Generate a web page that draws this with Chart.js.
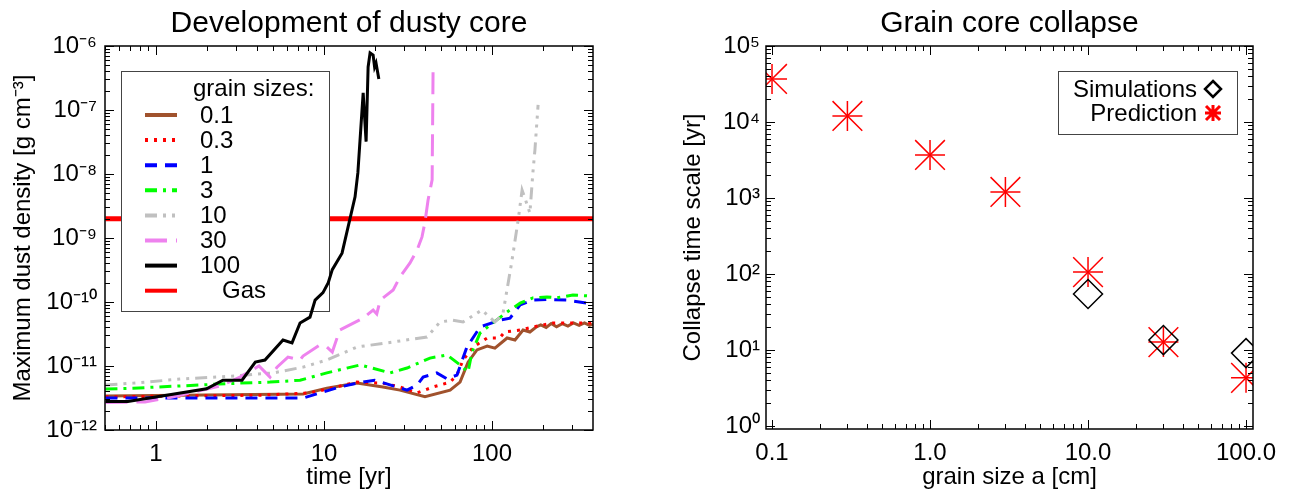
<!DOCTYPE html>
<html>
<head>
<meta charset="utf-8">
<script src="https://cdn.jsdelivr.net/npm/chart.js@4.4.1/dist/chart.umd.min.js"></script>
<style>
  body { margin: 0; background: #fff; }
  .wrap { position: absolute; top: 0; width: 648px; height: 497px; }
  #left { left: 0; }
  #right { left: 648px; }
</style>
</head>
<body>
<div class="wrap" id="left"><canvas id="dust" width="648" height="497"></canvas></div>
<div class="wrap" id="right"><canvas id="collapse" width="648" height="497"></canvas></div>
<script>
// left panel: maximum dust density vs time, one series per grain size
const seriesLabels = ["0.1", "0.3", "1", "3", "10", "30", "100", "Gas"];

const timeBrown = [0.5, 7.5, 10.4, 15.7, 22.4, 28.3, 39.9, 56.3, 64.5, 72, 81.3, 93.6, 104, 123, 137, 153, 168, 184, 195, 210, 225, 242, 262, 283, 305, 330, 355, 380, 400];
const rhoBrown = [3.4e-12, 3.65e-12, 4.5e-12, 5.4e-12, 4.7e-12, 4.2e-12, 3.3e-12, 4.2e-12, 5.6e-12, 1.15e-11, 1.78e-11, 2.05e-11, 1.9e-11, 2.74e-11, 2.55e-11, 3.65e-11, 3.4e-11, 4.1e-11, 4.4e-11, 4.0e-11, 4.6e-11, 4.1e-11, 4.6e-11, 4.2e-11, 4.7e-11, 4.3e-11, 4.7e-11, 4.3e-11, 4.5e-11];

const timeRed = [0.5, 4.2, 8.3, 15.7, 22.4, 28.3, 35.8, 44.6, 56.3, 61.8, 67.2, 77.3, 93.6, 111, 119, 147, 175, 230, 322, 400];
const rhoRed = [3.3e-12, 3.5e-12, 3.8e-12, 5.6e-12, 5.4e-12, 4.7e-12, 3.8e-12, 4.7e-12, 5.6e-12, 7.2e-12, 1.24e-11, 1.98e-11, 2.74e-11, 2.74e-11, 3.4e-11, 3.65e-11, 4.07e-11, 4.7e-11, 4.7e-11, 4.7e-11];

const timeBlue = [0.5, 7.5, 9.5, 12.4, 15.7, 20, 25.8, 31.2, 35.8, 38.9, 46.9, 54, 61.8, 70.9, 84.9, 111, 128, 147, 175, 212, 279, 368, 400];
const rhoBlue = [3.16e-12, 3.16e-12, 3.8e-12, 4.7e-12, 5.4e-12, 6.0e-12, 4.9e-12, 4.2e-12, 5.05e-12, 6.7e-12, 7.8e-12, 6.3e-12, 7.2e-12, 1.98e-11, 4.07e-11, 5.2e-11, 5.6e-11, 9.0e-11, 1.07e-10, 1.1e-10, 1.07e-10, 9.6e-11, 9.3e-11];

const timeGreen = [0.5, 0.73, 1.83, 3.16, 4.77, 7.2, 10.4, 16.4, 24.7, 31.2, 42.7, 54, 64.5, 72, 76, 84.9, 101, 123, 147, 175, 212, 244, 303, 383];
const rhoGreen = [4.37e-12, 4.5e-12, 5.05e-12, 5.4e-12, 5.6e-12, 6.0e-12, 7.8e-12, 1.04e-11, 7.8e-12, 9.3e-12, 1.33e-11, 1.49e-11, 1.04e-11, 8.1e-12, 1.65e-11, 3.28e-11, 4.7e-11, 7.0e-11, 9.6e-11, 1.16e-10, 1.2e-10, 1.16e-10, 1.29e-10, 1.24e-10];

const timeGray = [0.5, 0.73, 1.45, 3.03, 4.0, 5.0, 7.5, 10.4, 15.7, 23.7, 41, 49, 57.8, 67.2, 87.1, 104, 116, 131, 143, 151, 157, 168, 175, 180, 188];
const rhoGray = [5.05e-12, 5.4e-12, 6.3e-12, 7.0e-12, 7.5e-12, 7.8e-12, 9.6e-12, 1.24e-11, 1.98e-11, 2.3e-11, 2.84e-11, 4.87e-11, 5.2e-11, 4.87e-11, 7.5e-11, 4.87e-11, 6.5e-11, 4.2e-10, 1.9e-9, 5.6e-9, 4.2e-9, 2.45e-9, 1.04e-8, 2.37e-8, 1.2e-7];

const timeViolet = [0.5, 0.86, 1.25, 2.4, 3.16, 4.1, 4.77, 5.25, 6.1, 7.2, 7.5, 9.46, 10.4, 11.2, 12.4, 17.1, 19.6, 20.6, 21.6, 25.8, 28.3, 32.5, 35.8, 38.3, 39.9, 41.6, 44, 44.6];
const rhoViolet = [2.7e-12, 2.74e-12, 3.28e-12, 4.87e-12, 6.7e-12, 1.0e-11, 6.7e-12, 9.6e-12, 1.38e-11, 1.24e-11, 1.43e-11, 2.14e-11, 1.98e-11, 1.65e-11, 3.65e-11, 5.6e-11, 7.5e-11, 6.5e-11, 1.07e-10, 1.54e-10, 2.46e-10, 4.07e-10, 6.5e-10, 1.04e-9, 1.78e-9, 3.9e-9, 8.1e-9, 5.05e-7];

const timeBlack = [0.5, 0.68, 2.0, 2.5, 3.25, 3.9, 4.45, 5.7, 6.45, 7.2, 8.25, 8.85, 9.86, 10.6, 11.2, 12.8, 15.3, 15.9, 17.1, 17.8, 18.3, 18.8, 19.6, 20.0, 20.4, 21.2];
const rhoBlack = [2.8e-12, 2.8e-12, 4.4e-12, 6.0e-12, 6.0e-12, 1.15e-11, 1.24e-11, 2.55e-11, 2.3e-11, 4.7e-11, 5.8e-11, 1.07e-10, 1.4e-10, 2.0e-10, 3.2e-10, 5.8e-10, 4.4e-9, 1.04e-8, 1.85e-7, 3.2e-8, 4.7e-7, 7.8e-7, 7.2e-7, 4.7e-7, 5.4e-7, 3.05e-7];

const timeGas = [0.5, 400];
const rhoGas = [2e-9, 2e-9];

const timeTicks = [1, 10, 100];
const timeTickLabels = ["1", "10", "100"];
const rhoTicks = [1e-12, 1e-11, 1e-10, 1e-9, 1e-8, 1e-7, 1e-6];

// right panel: collapse time scale vs grain size
const grainSize = [0.1, 0.3, 1, 3, 10, 30, 100];
const tPrediction = [36800, 12000, 3680, 1200, 106, 12.7, 4.3];
const grainSim = [10, 30, 100];
const tSimulation = [54.6, 13.5, 9.1];
const grainTicks = [0.1, 1, 10, 100];
const grainTickLabels = ["0.1", "1.0", "10.0", "100.0"];
const collapseTicks = [1, 10, 100, 1000, 10000, 100000];
const collapseLegend = ["Simulations", "Prediction"];

const FONT = '"Liberation Sans", Arial, Helvetica, sans-serif';
Chart.defaults.font.family = FONT;
Chart.defaults.color = "#000";

const SUP = { "-": "\u207B", "0": "\u2070", "1": "\u00B9", "2": "\u00B2", "3": "\u00B3", "4": "\u2074", "5": "\u2075", "6": "\u2076", "7": "\u2077", "8": "\u2078", "9": "\u2079" };
function powLabel(v) {
  const e = Math.round(Math.log10(v));
  return "10" + String(e).split("").map((c) => SUP[c]).join("");
}

function logTicks(min, max) {
  const out = [];
  for (let n = Math.floor(Math.log10(min)); n <= Math.ceil(Math.log10(max)); n++) {
    for (let k = 1; k <= 9; k++) {
      const v = k * Math.pow(10, n);
      if (v >= min * 0.999 && v <= max * 1.001) out.push([v, k === 1]);
    }
  }
  return out;
}

// IDL style box: inward major/minor ticks on all four sides plus a title
const boxAxes = {
  id: "boxAxes",
  afterDraw(chart, args, opts) {
    const { ctx, chartArea: a, scales } = chart;
    const x = scales.x, y = scales.y;
    ctx.save();
    ctx.strokeStyle = "#000";
    ctx.lineWidth = 1;
    ctx.beginPath();
    for (const [v, major] of logTicks(x.min, x.max)) {
      const px = Math.round(x.getPixelForValue(v)) + 0.5;
      const len = major ? 9 : 5;
      ctx.moveTo(px, a.bottom); ctx.lineTo(px, a.bottom - len);
      ctx.moveTo(px, a.top); ctx.lineTo(px, a.top + len);
    }
    for (const [v, major] of logTicks(y.min, y.max)) {
      const py = Math.round(y.getPixelForValue(v)) + 0.5;
      const len = major ? 9 : 5;
      ctx.moveTo(a.left, py); ctx.lineTo(a.left + len, py);
      ctx.moveTo(a.right, py); ctx.lineTo(a.right - len, py);
    }
    ctx.stroke();
    ctx.lineWidth = 1.5;
    ctx.strokeRect(a.left, a.top, a.right - a.left, a.bottom - a.top);
    ctx.fillStyle = "#000";
    ctx.font = "30px " + FONT;
    ctx.textAlign = "center";
    ctx.textBaseline = "middle";
    ctx.fillText(opts.title, (a.left + a.right) / 2, 24);
    ctx.restore();
  },
};

// legend box of the left panel, painted right after the Gas line so the other curves sit on top
const grainLegend = {
  id: "grainLegend",
  afterDatasetDraw(chart, args) {
    if (args.index !== 7) return;
    const ctx = chart.ctx;
    ctx.save();
    ctx.fillStyle = "#fff";
    ctx.fillRect(121, 71, 208, 240);
    ctx.strokeStyle = "#444";
    ctx.lineWidth = 1;
    ctx.strokeRect(121.5, 71.5, 208, 240);
    ctx.fillStyle = "#000";
    ctx.font = "24px " + FONT;
    ctx.textBaseline = "middle";
    ctx.fillText("grain sizes:", 193, 89);
    chart.data.datasets.forEach((ds, i) => {
      const yy = 115 + i * 25.1;
      ctx.strokeStyle = ds.borderColor;
      ctx.lineWidth = 4;
      ctx.setLineDash(ds.borderDash);
      ctx.beginPath();
      ctx.moveTo(145, yy);
      ctx.lineTo(177, yy);
      ctx.stroke();
      ctx.setLineDash([]);
      ctx.fillText(ds.label, i === 7 ? 222 : 200, yy + 1);
    });
    ctx.restore();
  },
};

const collapseLegendPlugin = {
  id: "collapseLegend",
  afterDraw(chart) {
    const ctx = chart.ctx;
    ctx.save();
    ctx.fillStyle = "#fff";
    ctx.fillRect(410, 71, 179, 63);
    ctx.strokeStyle = "#444";
    ctx.lineWidth = 1;
    ctx.strokeRect(410.5, 71.5, 179, 63);
    ctx.fillStyle = "#000";
    ctx.font = "24px " + FONT;
    ctx.textAlign = "right";
    ctx.textBaseline = "middle";
    ctx.fillText(collapseLegend[0], 549, 90);
    ctx.fillText(collapseLegend[1], 549, 114);
    // diamond
    ctx.lineWidth = 2.5;
    ctx.strokeStyle = "#000";
    ctx.beginPath();
    ctx.moveTo(565, 81); ctx.lineTo(573, 89); ctx.lineTo(565, 97); ctx.lineTo(557, 89);
    ctx.closePath();
    ctx.stroke();
    // asterisk
    ctx.strokeStyle = "#f00";
    ctx.lineWidth = 3;
    ctx.beginPath();
    ctx.moveTo(557, 113); ctx.lineTo(573, 113);
    ctx.moveTo(565, 105); ctx.lineTo(565, 121);
    ctx.moveTo(558, 106); ctx.lineTo(572, 120);
    ctx.moveTo(572, 106); ctx.lineTo(558, 120);
    ctx.stroke();
    ctx.restore();
  },
};

const colors = ["#a0522d", "#ff0000", "#0000ff", "#00ff00", "#c0c0c0", "#ee82ee", "#000000", "#ff0000"];
const dashes = [[], [3, 6], [12, 8], [12, 6, 3, 6], [12, 6, 3, 6, 3, 6, 3, 6], [22, 9], [], []];
const times = [timeBrown, timeRed, timeBlue, timeGreen, timeGray, timeViolet, timeBlack, timeGas];
const rhos = [rhoBrown, rhoRed, rhoBlue, rhoGreen, rhoGray, rhoViolet, rhoBlack, rhoGas];

const dustSets = seriesLabels.map((label, i) => ({
  label: label,
  data: times[i].map((t, j) => ({ x: t, y: rhos[i][j] })),
  borderColor: colors[i],
  backgroundColor: colors[i],
  borderDash: dashes[i],
  borderWidth: i === 7 ? 5 : 3,
  pointRadius: 0,
  tension: 0,
  order: i === 7 ? 10 : 7 - i,
}));

function fixTicks(values) {
  return (scale) => {
    scale.ticks = values.map((v) => ({ value: v }));
  };
}

new Chart(document.getElementById("dust"), {
  type: "line",
  data: { datasets: dustSets },
  plugins: [grainLegend, boxAxes],
  options: {
    responsive: false,
    animation: false,
    layout: { padding: { top: 46, right: 55, left: 0, bottom: 0 } },
    plugins: {
      legend: { display: false },
      tooltip: { enabled: false },
      boxAxes: { title: "Development of dusty core" },
    },
    scales: {
      x: {
        type: "logarithmic",
        min: 0.497,
        max: 399,
        afterBuildTicks: fixTicks(timeTicks),
        afterFit: (s) => { s.height = 67; },
        grid: { display: false, drawTicks: false },
        border: { display: false },
        ticks: {
          autoSkip: false,
          maxRotation: 0,
          padding: 10,
          font: { size: 24 },
          callback: (v, i) => timeTickLabels[i],
        },
        title: { display: true, text: "time [yr]", font: { size: 24 }, padding: { top: 0, bottom: 5 } },
      },
      y: {
        type: "logarithmic",
        min: 1e-12,
        max: 1e-6,
        afterBuildTicks: fixTicks(rhoTicks),
        afterFit: (s) => { s.width = 105; },
        grid: { display: false, drawTicks: false },
        border: { display: false },
        ticks: {
          autoSkip: false,
          padding: 8,
          font: { size: 24 },
          callback: (v) => powLabel(v),
        },
        title: { display: true, text: "Maximum dust density [g cm\u207B\u00B3]", font: { size: 24 }, padding: { top: 9, bottom: 0 } },
      },
    },
  },
});

new Chart(document.getElementById("collapse"), {
  type: "scatter",
  data: {
    datasets: [
      {
        label: collapseLegend[0],
        data: grainSim.map((g, j) => ({ x: g, y: tSimulation[j] })),
        pointStyle: "rectRot",
        pointRadius: 14.5,
        pointBorderWidth: 1.5,
        pointBorderColor: "#000",
        pointBackgroundColor: "rgba(0,0,0,0)",
        clip: 0,
      },
      {
        label: collapseLegend[1],
        data: grainSize.map((g, j) => ({ x: g, y: tPrediction[j] })),
        pointStyle: "cross",
        pointRadius: 15,
        pointBorderWidth: 1.5,
        pointBorderColor: "#f00",
        clip: 0,
      },
      {
        label: collapseLegend[1],
        data: grainSize.map((g, j) => ({ x: g, y: tPrediction[j] })),
        pointStyle: "crossRot",
        pointRadius: 21,
        pointBorderWidth: 1.5,
        pointBorderColor: "#f00",
        clip: 0,
      },
    ],
  },
  plugins: [boxAxes, collapseLegendPlugin],
  options: {
    responsive: false,
    animation: false,
    layout: { padding: { top: 46, right: 43, left: 22, bottom: 0 } },
    plugins: {
      legend: { display: false },
      tooltip: { enabled: false },
      boxAxes: { title: "Grain core collapse" },
    },
    scales: {
      x: {
        type: "logarithmic",
        min: 0.0916,
        max: 110.7,
        afterBuildTicks: fixTicks(grainTicks),
        afterFit: (s) => { s.height = 68; },
        grid: { display: false, drawTicks: false },
        border: { display: false },
        ticks: {
          autoSkip: false,
          maxRotation: 0,
          padding: 10,
          font: { size: 24 },
          callback: (v, i) => grainTickLabels[i],
        },
        title: { display: true, text: "grain size a [cm]", font: { size: 24 }, padding: { top: 0, bottom: 5 } },
      },
      y: {
        type: "logarithmic",
        min: 0.913,
        max: 1e5,
        afterBuildTicks: fixTicks(collapseTicks),
        afterFit: (s) => { s.width = 96; },
        grid: { display: false, drawTicks: false },
        border: { display: false },
        ticks: {
          autoSkip: false,
          padding: 6,
          font: { size: 24 },
          callback: (v) => powLabel(v),
        },
        title: { display: true, text: "Collapse time scale [yr]", font: { size: 24 }, padding: { top: 9, bottom: 0 } },
      },
    },
  },
});
</script>
</body>
</html>
